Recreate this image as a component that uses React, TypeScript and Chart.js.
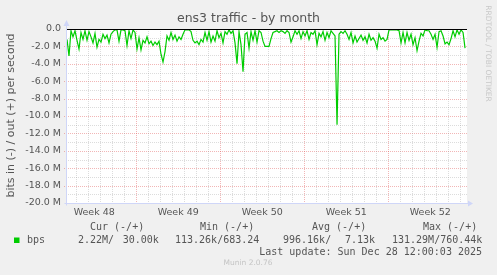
import React, { useEffect, useRef } from "react";
import { Chart, registerables } from "chart.js";

Chart.register(...registerables);

// ---------- texts ----------
const TITLE = "ens3 traffic - by month";
const Y_TITLE = "bits in (-) / out (+) per second";
const SIDE_TEXT = "RRDTOOL / TOBI OETIKER";
const FOOTER = "Munin 2.0.76";
const LAST_UPDATE = "Last update: Sun Dec 28 12:00:03 2025";
const SERIES_NAME = "bps";

// ---------- x axis (days relative to Mon Dec 1 2025 00:00) ----------
const WEEK_LABELS = ["Week 48", "Week 49", "Week 50", "Week 51", "Week 52"];
const WEEK_LABEL_DAYS = [-3.5, 3.5, 10.5, 17.5, 24.5];
const WEEK_START_DAYS = [0, 7, 14, 21];
const X_MIN_DAY = -5.77;
const X_MAX_DAY = 27.56;
const SAMPLE_START_DAY = -5.77;
const SAMPLE_STEP_DAY = 1 / 6; // one sample every 4 hours

// ---------- y axis (Mbit/s) ----------
const Y_MIN = -20;
const Y_MAX = 0;
const Y_STEP = 2;
const Y_MINOR = 1;

// ---------- series: bits in (drawn negative), Mbit/s ----------
const IN_MBPS = [
  -1.2, -3.1, -0.2, -0.9, -0.2, -1.3, -2.3, -0.4, -1.2, -0.2,
  -1.3, -0.3, -0.9, -1.6, -0.5, -2.1, -1.2, -1.5, -0.6, -1.1,
  -0.7, -1.6, -0.6, -0.3, -0.1, -0.1, -1.4, -0.1, -0.1, -0.2,
  -1.9, -0.2, -1.1, -0.1, -0.4, -2.3, -1.0, -2.4, -1.3, -1.6,
  -0.9, -1.7, -1.4, -1.9, -1.5, -1.8, -1.4, -2.9, -3.8, -2.6,
  -0.8, -1.3, -0.4, -1.2, -0.7, -1.4, -0.9, -1.2, -0.6, -0.1,
  -0.1, -0.1, -0.3, -1.3, -1.6, -1.4, -1.8, -1.2, -1.5, -0.4,
  -1.3, -0.3, -1.5, -0.8, -1.4, -0.2, -1.0, -0.5, -1.6, -0.3,
  -0.6, -0.1, -0.5, -0.2, -1.6, -4.0, -0.3, -1.8, -4.9, -0.6,
  -0.4, -2.2, -0.3, -1.3, -0.2, -1.5, -0.2, -0.4, -1.4, -2.0,
  -2.0, -2.0, -1.1, -0.4, -0.3, -0.2, -0.4, -0.2, -0.3, -0.5,
  -0.2, -0.4, -1.5, -0.9, -0.2, -0.6, -0.2, -1.1, -0.3, -0.8,
  -0.2, -1.2, -0.4, -0.6, -0.2, -1.8, -0.5, -0.9, -0.3, -1.3,
  -0.4, -1.0, -0.2, -0.5, -0.8, -11.0, -0.6, -0.3, -0.5, -0.2,
  -0.6, -1.2, -0.4, -1.6, -0.8, -1.5, -1.1, -0.7, -1.3, -0.9,
  -1.6, -0.6, -1.3, -1.0, -1.4, -2.2, -0.6, -1.2, -1.0, -1.4,
  -1.2, -0.1, -0.1, -0.1, -0.1, -0.1, -0.2, -1.6, -0.4, -1.6,
  -0.4, -1.3, -0.6, -1.8, -1.0, -2.5, -1.4, -0.5, -0.8, -0.1,
  -0.2, -0.2, -0.6, -1.2, -0.6, -2.1, -0.3, -0.2, -0.8, -1.7,
  -1.5, -1.8, -1.1, -0.2, -0.9, -0.1, -0.6, -0.1, -0.4, -2.2,
];

// ---------- legend ----------
const LEGEND_HEADERS = ["Cur (-/+)", "Min (-/+)", "Avg (-/+)", "Max (-/+)"];
const LEGEND_CUR = ["2.22M/", "30.00k"];
const LEGEND_MIN = ["113.26k/683.24"];
const LEGEND_AVG = ["996.16k/", "7.13k"];
const LEGEND_MAX = ["131.29M/760.44k"];

const LINE_COLOR = "#00cc00";
const TEXT_COLOR = "#555555";
const AXIS_COLOR = "#cfd6f8";
const MAJOR_GRID = "rgba(225, 80, 80, 0.42)";
const MINOR_GRID = "rgba(150, 150, 150, 0.33)";

const muninPlugin = {
  id: "muninLook",
  beforeDraw(chart: any) {
    const { ctx, chartArea: a } = chart;
    ctx.save();
    ctx.fillStyle = "#f0f0f0";
    ctx.fillRect(0, 0, chart.width, chart.height);
    ctx.fillStyle = "#ffffff";
    ctx.fillRect(a.left, a.top, a.right - a.left, a.bottom - a.top);
    ctx.restore();
  },
  beforeDatasetsDraw(chart: any) {
    const { ctx, chartArea: a } = chart;
    const x = chart.scales.x;
    const y = chart.scales.y;
    ctx.save();
    ctx.lineWidth = 1;
    ctx.setLineDash([1, 1]);
    // horizontal grid
    for (let v = Y_MIN + Y_MINOR; v < Y_MAX; v += Y_MINOR) {
      const py = Math.round(y.getPixelForValue(v)) + 0.5;
      const major = Math.abs(v % Y_STEP) < 1e-9;
      ctx.strokeStyle = major ? MAJOR_GRID : MINOR_GRID;
      ctx.beginPath();
      ctx.moveTo(a.left - (major ? 3 : 1), py);
      ctx.lineTo(a.right, py);
      ctx.stroke();
    }
    // vertical grid (days, weeks)
    for (let d = Math.ceil(X_MIN_DAY); d <= X_MAX_DAY; d++) {
      const px = Math.round(x.getPixelForValue(d)) + 0.5;
      const major = WEEK_START_DAYS.includes(d);
      ctx.strokeStyle = major ? MAJOR_GRID : MINOR_GRID;
      ctx.beginPath();
      ctx.moveTo(px, a.top);
      ctx.lineTo(px, a.bottom + 2);
      ctx.stroke();
    }
    ctx.restore();
  },
  afterDatasetsDraw(chart: any) {
    const { ctx, chartArea: a } = chart;
    const y = chart.scales.y;
    ctx.save();
    // zero rule
    const p0 = Math.round(y.getPixelForValue(0)) + 0.5;
    ctx.strokeStyle = "#000000";
    ctx.lineWidth = 1;
    ctx.beginPath();
    ctx.moveTo(a.left, p0);
    ctx.lineTo(a.right, p0);
    ctx.stroke();
    // axes
    const ax = Math.round(a.left) - 0.5;
    const ay = Math.round(a.bottom) + 0.5;
    ctx.strokeStyle = AXIS_COLOR;
    ctx.beginPath();
    ctx.moveTo(ax, ay + 2);
    ctx.lineTo(ax, a.top - 3);
    ctx.moveTo(ax - 2, ay);
    ctx.lineTo(a.right + 1, ay);
    ctx.stroke();
    ctx.fillStyle = AXIS_COLOR;
    ctx.beginPath();
    ctx.moveTo(ax, a.top - 9);
    ctx.lineTo(ax - 3, a.top - 3);
    ctx.lineTo(ax + 3, a.top - 3);
    ctx.closePath();
    ctx.fill();
    ctx.beginPath();
    ctx.moveTo(a.right + 6, ay);
    ctx.lineTo(a.right + 1, ay - 3);
    ctx.lineTo(a.right + 1, ay + 3);
    ctx.closePath();
    ctx.fill();
    ctx.restore();
  },
  afterDraw(chart: any) {
    const { ctx } = chart;
    ctx.save();
    ctx.fillStyle = TEXT_COLOR;
    ctx.textBaseline = "middle";
    // title
    ctx.font = "12.5px 'DejaVu Sans'";
    ctx.textAlign = "center";
    ctx.fillText(TITLE, 248.5, 19);
    // y title
    ctx.save();
    ctx.translate(11.5, 115.5);
    ctx.rotate(-Math.PI / 2);
    ctx.font = "11px 'DejaVu Sans'";
    ctx.fillText(Y_TITLE, 0, 0);
    ctx.restore();
    // side text
    ctx.save();
    ctx.translate(487.5, 53.5);
    ctx.rotate(Math.PI / 2);
    ctx.fillStyle = "#c8c8c8";
    ctx.font = "7.5px 'DejaVu Sans'";
    ctx.fillText(SIDE_TEXT, 0, 0);
    ctx.restore();
    // legend
    ctx.font = "10px 'DejaVu Sans Mono'";
    ctx.textAlign = "left";
    const headerX = [90, 200, 312, 423];
    LEGEND_HEADERS.forEach((h, i) => ctx.fillText(h, headerX[i], 227));
    ctx.fillStyle = LINE_COLOR;
    ctx.fillRect(14, 237.5, 5.5, 5.5);
    ctx.fillStyle = TEXT_COLOR;
    ctx.fillText(SERIES_NAME, 27, 240);
    ctx.fillText(LEGEND_CUR[0], 78, 240);
    ctx.fillText(LEGEND_CUR[1], 122.7, 240);
    ctx.fillText(LEGEND_MIN[0], 175, 240);
    ctx.fillText(LEGEND_AVG[0], 283, 240);
    ctx.fillText(LEGEND_AVG[1], 345, 240);
    ctx.fillText(LEGEND_MAX[0], 392, 240);
    ctx.textAlign = "right";
    ctx.fillText(LAST_UPDATE, 482, 252);
    // footer
    ctx.textAlign = "center";
    ctx.fillStyle = "#c4c4c4";
    ctx.font = "7.5px 'DejaVu Sans'";
    ctx.fillText(FOOTER, 248, 263);
    ctx.restore();
  },
};

export default function App() {
  const ref = useRef<HTMLCanvasElement | null>(null);

  useEffect(() => {
    if (!ref.current) return;
    const points = IN_MBPS.map((v, i) => ({ x: SAMPLE_START_DAY + i * SAMPLE_STEP_DAY, y: v }));
    const chart = new Chart(ref.current, {
      type: "line",
      data: {
        datasets: [
          {
            label: SERIES_NAME,
            data: points,
            borderColor: LINE_COLOR,
            borderWidth: 1.2,
            pointRadius: 0,
            tension: 0,
            fill: false,
          },
        ],
      },
      plugins: [muninPlugin],
      options: {
        animation: false,
        responsive: false,
        devicePixelRatio: 1,
        events: [],
        layout: { padding: { top: 29, right: 30, left: 0, bottom: 0 } },
        plugins: { legend: { display: false }, title: { display: false }, tooltip: { enabled: false } },
        scales: {
          x: {
            type: "linear",
            min: X_MIN_DAY,
            max: X_MAX_DAY,
            grid: { display: false, drawTicks: false },
            border: { display: false },
            afterBuildTicks: (s: any) => {
              s.ticks = WEEK_LABEL_DAYS.map((v) => ({ value: v }));
            },
            afterFit: (s: any) => {
              s.height = 72;
            },
            ticks: {
              autoSkip: false,
              maxRotation: 0,
              padding: 4,
              color: TEXT_COLOR,
              font: { family: "DejaVu Sans", size: 9.5 },
              callback: (_v: any, i: number) => WEEK_LABELS[i],
            },
          },
          y: {
            type: "linear",
            min: Y_MIN,
            max: Y_MAX,
            grid: { display: false, drawTicks: false },
            border: { display: false },
            afterFit: (s: any) => {
              s.width = 67;
            },
            ticks: {
              stepSize: Y_STEP,
              padding: 6,
              color: TEXT_COLOR,
              font: { family: "DejaVu Sans", size: 9.5 },
              callback: (v: any) => (Number(v) === 0 ? "0.0" : `${Number(v).toFixed(1)} M`),
            },
          },
        },
      },
    });
    return () => chart.destroy();
  }, []);

  return (
    <div style={{ position: "fixed", left: 0, top: 0, width: 497, height: 275, background: "#f0f0f0" }}>
      <canvas ref={ref} width={497} height={275} style={{ display: "block", width: 497, height: 275 }} />
    </div>
  );
}
